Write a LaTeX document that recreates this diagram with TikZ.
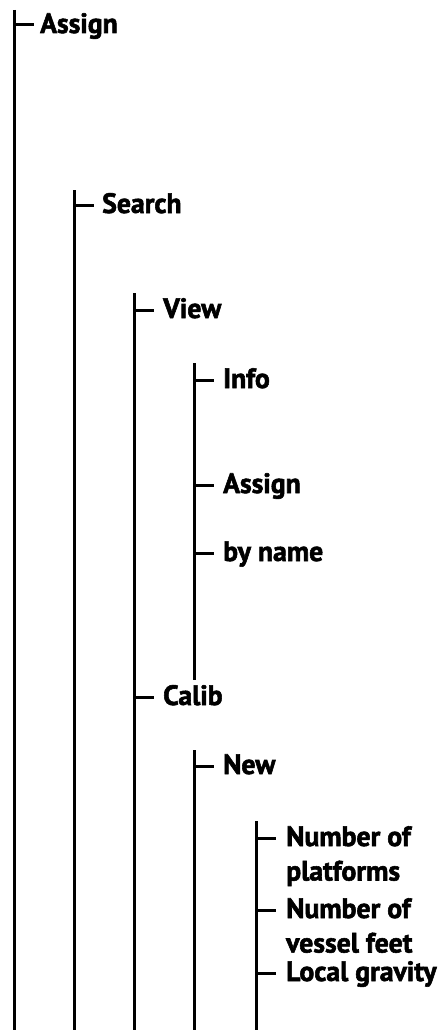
\documentclass[tikz,border=0pt]{standalone}
\usepackage{fontspec}
\setmainfont{PT Sans}[FakeStretch=0.99,FakeBold=2]
\usetikzlibrary{calc}
\begin{document}
\begin{tikzpicture}[x=1pt,y=-1pt,
  branch/.style={line width=3pt},
  lbl/.style={anchor=base west,inner sep=0pt,align=left,
    font=\bfseries\fontsize{28}{34.5}\selectfont}]
\useasboundingbox[fill=white] (0,0) rectangle (439,1030);
% vertical lines
\coordinate (t1) at (14,10);   \coordinate (b1) at (14,1030);
\coordinate (t2) at (74,190);  \coordinate (b2) at (74,1030);
\coordinate (t3) at (134,293); \coordinate (b3) at (134,1030);
\coordinate (t4) at (194,363); \coordinate (b4) at (194,680);
\coordinate (t5) at (194,750); \coordinate (b5) at (194,1030);
\coordinate (t6) at (256,821); \coordinate (b6) at (256,1030);
\foreach \i in {1,...,6} {\draw[branch] (t\i) -- (b\i);}
% tick start points
\coordinate (j1) at (14,25);
\coordinate (j2) at (74,205);
\coordinate (j3) at (134,310);
\coordinate (j4) at (194,380);
\coordinate (j5) at (194,485);
\coordinate (j6) at (194,553);
\coordinate (j7) at (134,697);
\coordinate (j8) at (194,766);
\coordinate (j9) at (256,838);
\coordinate (j10) at (256,910);
\coordinate (j11) at (256,973);
% labels
\node[lbl] (n1) at ($(j1)+(26,8)$) {Assign};
\node[lbl] (n2) at ($(j2)+(28,8)$) {Search};
\node[lbl] (n3) at ($(j3)+(29,8)$) {View};
\node[lbl] (n4) at ($(j4)+(29,8)$) {Info};
\node[lbl] (n5) at ($(j5)+(29,8)$) {Assign};
\node[lbl] (n6) at ($(j6)+(29,8)$) {by name};
\node[lbl] (n7) at ($(j7)+(29,8)$) {Calib};
\node[lbl] (n8) at ($(j8)+(29,8)$) {New};
\node[lbl] (n9) at ($(j9)+(30,42.5)$) {Number of\\platforms};
\node[lbl] (n10) at ($(j10)+(30,42.5)$) {Number of\\vessel feet};
\node[lbl] (n11) at ($(j11)+(30,8)$) {Local gravity};
% ticks
\foreach \i in {1,...,11} {\draw[branch] (j\i) -- ++(20,0);}
\end{tikzpicture}
\end{document}
